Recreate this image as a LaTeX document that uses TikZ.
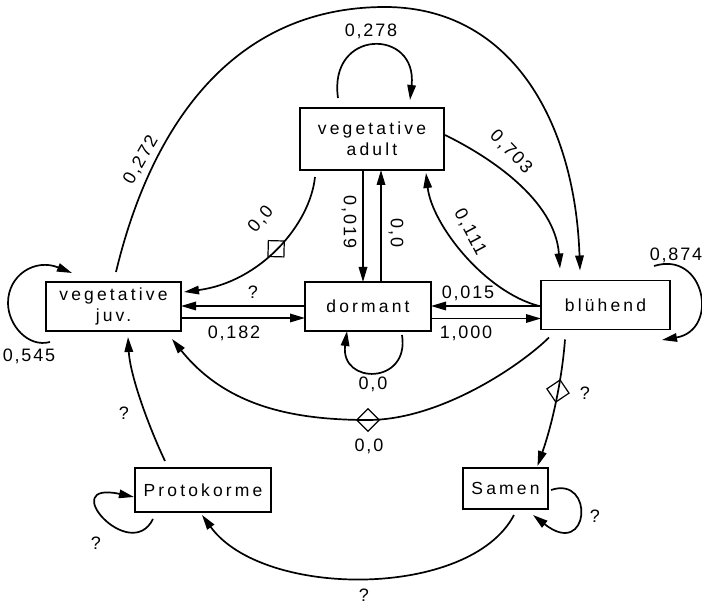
\documentclass[tikz,border=0pt]{standalone}
\usepackage{fontspec}
\setmainfont{Liberation Sans}
\newfontfamily\nodefont[LetterSpace=18]{Liberation Sans}
\newfontfamily\labfont[LetterSpace=10]{Liberation Sans}
\usetikzlibrary{arrows.meta,calc,shapes.geometric}
\begin{document}
\begin{tikzpicture}[x=1pt,y=1pt,
  box/.style={draw, line width=1.3pt, inner sep=0pt, outer sep=0pt, align=center,
    font=\nodefont\fontsize{17.5}{21}\selectfont},
  edge/.style={line width=1.7pt, -{Triangle[length=15pt,width=8.5pt]}},
  lab/.style={font=\labfont\fontsize{18}{20}\selectfont, inner sep=0pt},
  dia/.style={draw, diamond, line width=1.2pt, minimum size=23pt, inner sep=0pt, sloped}
]
\useasboundingbox (0,0) rectangle (702,-604);

% states
\node[box, minimum width=135pt, minimum height=49pt] (juv) at (113.5,-306.5) {vegetative\\juv.};
\node[box, minimum width=144pt, minimum height=62pt] (adult) at (372,-139) {vegetative\\adult};
\node[box, minimum width=126pt, minimum height=49pt] (dorm) at (368,-306.5) {dormant};
\node[box, minimum width=129pt, minimum height=49pt] (blu) at (605.5,-305) {blühend};
\node[box, minimum width=136pt, minimum height=44pt] (proto) at (203,-490) {Protokorme};
\node[box, minimum width=85pt, minimum height=41pt] (samen) at (505.5,-488.5) {Samen};
\node[dia, sloped=false] (d2) at (368,-420) {};
\coordinate (top272) at (385,-7);

% adult self loop
\draw[edge] ($(adult.north)+(-34,10)$) .. controls (328,-28) and (418,-28) .. ($(adult.north)+(38,8)$);
\node[lab] (l278) at (371,-31) {0,278};

% juv -> bluehend (0,272)
\draw[edge] ($(juv.north)+(2.5,10)$) .. controls (150,-130) and (230,-7) .. (top272)
  .. controls (510,-7) and (575,-120) .. ($(blu.north)+(-25.5,10)$);
\node[lab, rotate=60] (l272) at (141,-160) {0,272};

% adult -> bluehend (0,703)
\draw[edge] ($(adult.east)+(1,4)$) .. controls (490,-157) and (555,-200) .. ($(blu.north)+(-45.5,12)$);
\node[lab, rotate=-46] (l703) at (511,-152) {0,703};

% bluehend -> adult (0,111)
\draw[edge] ($(blu.west)+(-2,-1)$) .. controls (485,-292) and (432,-225) .. ($(adult.south east)+(-18,-3)$);
\node[lab, rotate=-62] (l111) at (470,-232) {0,111};

% adult -> juv (0,0) with diamond
\draw[edge] ($(adult.south west)+(15,-7)$) .. controls (310,-225) and (260,-282) .. ($(juv.north east)+(3,-10)$) node[dia, pos=0.5] (d1) {};
\node[lab, rotate=50] (l00a) at (261,-219) {0,0};

% adult <-> dormant
\draw[edge] ($(adult.south)+(-9,0)$) -- ($(dorm.north)+(-5,0)$);
\node[lab, rotate=-90] (l019) at (349,-222) {0,019};
\draw[edge] ($(dorm.north)+(13,0)$) -- ($(adult.south)+(9,0)$);
\node[lab, rotate=-90] (l00b) at (396,-233) {0,0};

% dormant <-> juv
\draw[edge] ($(dorm.west)+(0,0.5)$) -- ($(juv.east)+(0,0.5)$);
\node[lab] (lq1) at (253,-292) {?};
\draw[edge] ($(juv.east)+(0,-11.5)$) -- ($(dorm.west)+(0,-11.5)$);
\node[lab] (l182) at (234,-333) {0,182};

% bluehend <-> dormant
\draw[edge] ($(blu.west)+(0,-1)$) -- ($(dorm.east)+(0,0.5)$);
\node[lab] (l015) at (468,-293) {0,015};
\draw[edge] ($(dorm.east)+(0,-12)$) -- ($(blu.west)+(0,-13.5)$);
\node[lab] (l1000) at (466,-333) {1,000};

% dormant self loop
\draw[edge] ($(dorm.south)+(34,-4)$) .. controls (410,-385) and (340,-385) .. ($(dorm.south)+(-21,0)$);
\node[lab] (l00c) at (373,-384) {0,0};

% bluehend -> juv (0,0) with diamond
\draw[edge] ($(blu.south west)+(8,-8)$) .. controls (520,-366) and (440,-420) .. (d2.center)
  .. controls (290,-420) and (225,-405) .. ($(juv.south east)+(-9,-8)$);
\node[lab] (l00d) at (369,-446) {0,0};

% bluehend -> Samen
\draw[edge] ($(blu.south)+(-40.5,-10)$) .. controls (562,-380) and (552,-425) .. ($(samen.north)+(32,2)$) node[dia, pos=0.41] (d3) {};
\node[lab] (lq2) at (585,-393) {?};

% bluehend self loop
\draw[edge] ($(blu.north east)+(-16,14.5)$) .. controls (705,-250) and (720,-330) .. ($(blu.south east)+(-8,-10.5)$);
\node[lab] (l874) at (676,-255) {0,874};

% juv self loop
\draw[edge] ($(juv.south west)+(4,-11)$) .. controls (28,-348) and (8,-325) .. (8,-303)
  .. controls (8,-275) and (35,-258) .. ($(juv.north west)+(26,9)$);
\node[lab] (l545) at (29,-356) {0,545};

% Protokorme -> juv
\draw[edge] ($(proto.north west)+(30,7)$) .. controls (148,-425) and (130,-375) .. ($(juv.south)+(14.5,-6)$);
\node[lab] (lq3) at (124,-413) {?};

% Protokorme self loop
\draw[edge] ($(proto.south west)+(18,-7)$) .. controls (130,-565) and (55,-480) .. ($(proto.west)+(-1,-7)$);
\node[lab] (lq4) at (96,-543) {?};

% Samen -> Protokorme
\draw[edge] ($(samen.south)+(8.5,-6)$) .. controls (470,-599) and (263,-599) .. ($(proto.south)+(-1,-3)$);
\node[lab] (lq5) at (364,-595) {?};

% Samen self loop
\draw[edge] ($(samen.east)+(3,-1.5)$) .. controls (595,-475) and (590,-560) .. ($(samen.south east)+(-15,-6)$);
\node[lab] (lq6) at (595,-516) {?};
\end{tikzpicture}
\end{document}
